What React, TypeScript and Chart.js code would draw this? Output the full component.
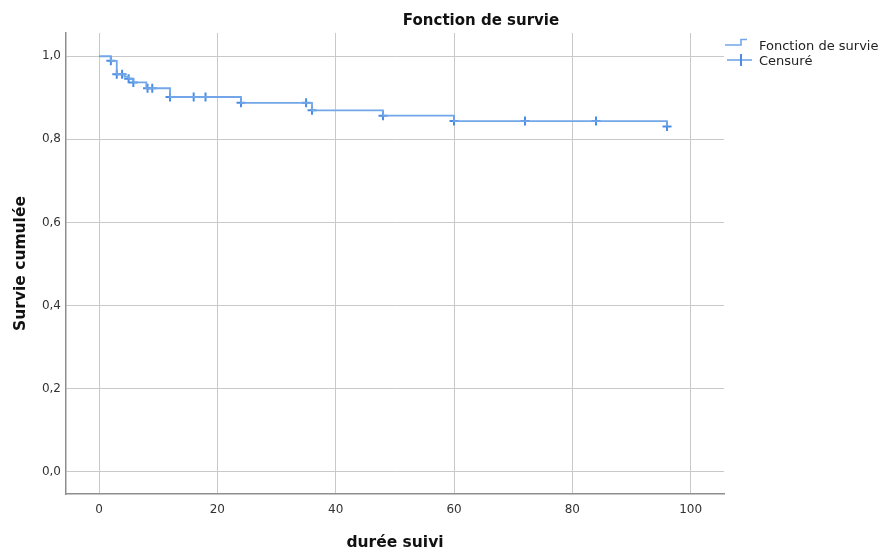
import React, { useEffect, useRef } from 'react';
import { Chart, registerables } from 'chart.js';

Chart.register(...registerables);

// Kaplan-Meier step points (time, cumulative survival after the event)
const stepTimes = [0, 2, 3, 4.3, 5, 5.8, 8, 12, 24, 36, 48, 60, 96];
const stepSurv = [1.0, 0.989, 0.957, 0.951, 0.946, 0.937, 0.923, 0.902, 0.888, 0.87, 0.857, 0.844, 0.831];

// Censored observations
const censTimes = [2, 3, 3.9, 5, 5.8, 8.2, 9, 12, 16, 18, 24, 35, 36, 48, 60, 72, 84, 96];
const censSurv = [0.989, 0.957, 0.957, 0.946, 0.937, 0.923, 0.923, 0.902, 0.902, 0.902, 0.888, 0.888, 0.87, 0.857, 0.844, 0.844, 0.844, 0.831];

const xTicks = [0, 20, 40, 60, 80, 100];
const yTicks = [0, 0.2, 0.4, 0.6, 0.8, 1.0];

const titleText = 'Fonction de survie';
const xTitle = 'durée suivi';
const yTitle = 'Survie cumulée';
const legendLabels = ['Fonction de survie', 'Censuré'];

const FONT = 'DejaVu Sans';
const LINE_COLOR = '#72a6e8';
const MARK_COLOR = '#4a8de2';

const overlayPlugin = {
  id: 'overlay',
  afterDraw(chart: any) {
    const ctx = chart.ctx as CanvasRenderingContext2D;
    ctx.save();
    // Title
    ctx.fillStyle = '#111';
    ctx.font = `bold 15px "${FONT}"`;
    ctx.textAlign = 'center';
    ctx.textBaseline = 'alphabetic';
    ctx.fillText(titleText, 481, 25);

    // Legend
    const ca = chart.chartArea;
    const lx = ca.right + 1;
    ctx.strokeStyle = LINE_COLOR;
    ctx.lineWidth = 1.6;
    ctx.beginPath();
    ctx.moveTo(lx, 45);
    ctx.lineTo(lx + 16, 45);
    ctx.lineTo(lx + 16, 39.5);
    ctx.lineTo(lx + 22, 39.5);
    ctx.stroke();

    ctx.beginPath();
    ctx.moveTo(lx + 2, 60);
    ctx.lineTo(lx + 27, 60);
    ctx.stroke();
    ctx.strokeStyle = MARK_COLOR;
    ctx.lineWidth = 2;
    ctx.beginPath();
    ctx.moveTo(lx + 16, 54);
    ctx.lineTo(lx + 16, 66);
    ctx.stroke();

    ctx.fillStyle = '#222';
    ctx.font = `13px "${FONT}"`;
    ctx.textAlign = 'left';
    ctx.fillText(legendLabels[0], lx + 34, 49.5);
    ctx.fillText(legendLabels[1], lx + 34, 64.5);
    ctx.restore();
  },
};

export default function App() {
  const canvasRef = useRef<HTMLCanvasElement | null>(null);

  useEffect(() => {
    if (!canvasRef.current) return;
    const chart = new Chart(canvasRef.current, {
      type: 'line',
      data: {
        datasets: [
          {
            label: legendLabels[0],
            data: stepTimes.map((t, i) => ({ x: t, y: stepSurv[i] })),
            stepped: 'before',
            borderColor: LINE_COLOR,
            borderWidth: 1.8,
            pointRadius: 0,
            fill: false,
          },
          {
            label: legendLabels[1],
            type: 'scatter',
            data: censTimes.map((t, i) => ({ x: t, y: censSurv[i] })),
            showLine: false,
            pointStyle: 'cross',
            pointRadius: 4.5,
            pointBorderWidth: 2,
            borderColor: MARK_COLOR,
            backgroundColor: MARK_COLOR,
          } as any,
        ],
      },
      options: {
        animation: false,
        responsive: true,
        maintainAspectRatio: false,
        layout: { padding: { top: 33, right: 157, left: 0, bottom: 0 } },
        plugins: {
          legend: { display: false },
          title: { display: false },
          tooltip: { enabled: false },
        },
        scales: {
          x: {
            type: 'linear',
            min: -5.58,
            max: 105.63,
            afterBuildTicks: (axis: any) => {
              axis.ticks = xTicks.map((v) => ({ value: v }));
            },
            afterFit: (scale: any) => {
              scale.height = 59;
            },
            grid: { color: '#c9c9c9', lineWidth: 1, drawTicks: false },
            border: { color: '#8e8e8e', width: 1.5 },
            ticks: {
              font: { family: FONT, size: 12 },
              color: '#333',
              padding: 9,
              maxRotation: 0,
              callback: (v: any) => String(v),
            },
            title: {
              display: true,
              text: xTitle,
              color: '#111',
              font: { family: FONT, size: 15.5, weight: 'bold' },
              padding: { top: 0, bottom: 1 },
            },
          },
          y: {
            type: 'linear',
            min: -0.0536,
            max: 1.056,
            afterBuildTicks: (axis: any) => {
              axis.ticks = yTicks.map((v) => ({ value: v }));
            },
            afterFit: (scale: any) => {
              scale.width = 66;
            },
            grid: { color: '#c9c9c9', lineWidth: 1, drawTicks: false },
            border: { color: '#8e8e8e', width: 1.5 },
            ticks: {
              font: { family: FONT, size: 12 },
              color: '#333',
              padding: 5,
              callback: (v: any) => Number(v).toFixed(1).replace('.', ','),
            },
            title: {
              display: true,
              text: yTitle,
              color: '#111',
              font: { family: FONT, size: 15.5, weight: 'bold' },
              padding: { top: 12, bottom: 0 },
            },
          },
        },
      } as any,
      plugins: [overlayPlugin],
    });
    return () => chart.destroy();
  }, []);

  return (
    <div style={{ position: 'fixed', left: 0, top: 0, width: 881, height: 553, background: '#fff' }}>
      <canvas ref={canvasRef} />
    </div>
  );
}
